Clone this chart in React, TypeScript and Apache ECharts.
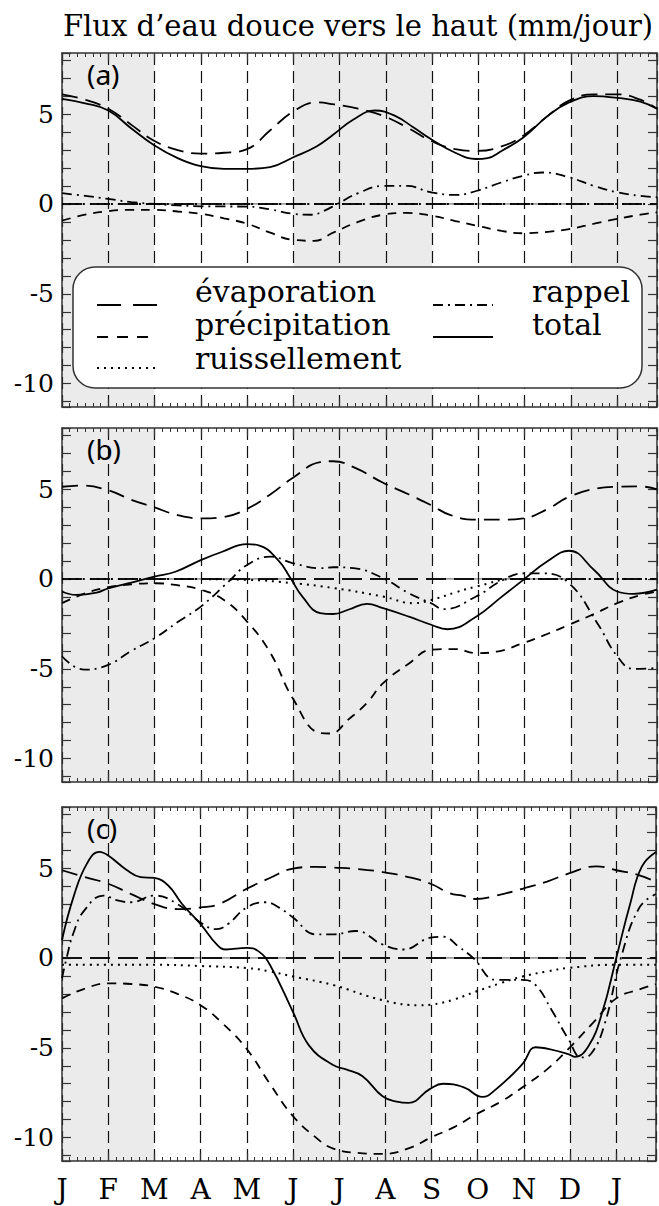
import React, { useEffect, useRef } from "react";
import * as echarts from "echarts";

// ---------- data ----------
const monthLabels = ["J", "F", "M", "A", "M", "J", "J", "A", "S", "O", "N", "D", "J"];
const X_MAX = 12.86;
const Y_MIN = -11.3;
const Y_MAX = 8.4;
const shadedPeriods = [[0, 2], [5, 8], [11, X_MAX]];
const zeroLine = [[0, 0], [X_MAX, 0]];
const panelLabels = ["(a)", "(b)", "(c)"];
const titleText = "Flux d\u2019eau douce vers le haut (mm/jour)";
const legendNames = ["évaporation", "précipitation", "ruissellement", "rappel", "total"];

// panel (a)
const evapA = [[0, 6.1], [0.5, 5.8], [1, 5.3], [1.5, 4.4], [2, 3.5], [2.5, 3.0], [3, 2.8], [3.5, 2.85], [4, 3.05], [4.5, 4.1], [5, 5.15], [5.5, 5.65], [5.86, 5.55], [6.4, 5.3], [6.94, 4.9], [7.5, 4.2], [7.98, 3.5], [8.5, 3.05], [8.95, 2.95], [9.5, 3.2], [9.97, 3.8], [10.5, 4.9], [10.96, 5.75], [11.5, 6.1], [12, 6.1], [12.5, 5.8], [12.86, 5.3]];
const precipA = [[0, -0.93], [0.5, -0.6], [1, -0.4], [1.5, -0.33], [2, -0.33], [2.5, -0.42], [3, -0.55], [3.5, -0.8], [4, -1.1], [4.5, -1.6], [5, -2.0], [5.45, -2.05], [5.86, -1.6], [6.4, -1.0], [6.94, -0.6], [7.45, -0.5], [7.98, -0.65], [8.5, -0.95], [8.95, -1.2], [9.5, -1.5], [9.97, -1.63], [10.5, -1.55], [10.96, -1.4], [11.5, -1.1], [12, -0.83], [12.5, -0.6], [12.86, -0.47]];
const ruissA = [[0, 0], [4, 0], [8, 0], [12.86, 0]];
const rappelA = [[0, 0.6], [0.5, 0.45], [1, 0.28], [1.5, 0.1], [2, 0], [2.5, -0.08], [3, -0.13], [3.5, -0.14], [4, -0.15], [4.5, -0.3], [5, -0.55], [5.4, -0.6], [5.65, -0.4], [5.95, 0], [6.4, 0.6], [6.94, 1.0], [7.45, 1.0], [7.98, 0.65], [8.5, 0.5], [8.95, 0.72], [9.5, 1.2], [9.97, 1.57], [10.4, 1.75], [10.96, 1.48], [11.5, 1.0], [12, 0.65], [12.5, 0.45], [12.86, 0.37]];
const totalA = [[0, 5.85], [0.5, 5.6], [1, 5.2], [1.5, 4.2], [2, 3.25], [2.5, 2.55], [3, 2.1], [3.5, 1.95], [4, 1.95], [4.5, 2.05], [5, 2.6], [5.5, 3.2], [5.86, 3.85], [6.3, 4.7], [6.77, 5.2], [7.2, 4.9], [7.6, 4.25], [7.98, 3.6], [8.5, 2.85], [8.95, 2.5], [9.2, 2.55], [9.5, 2.95], [9.97, 3.7], [10.5, 4.9], [10.96, 5.65], [11.5, 6.0], [12, 5.9], [12.5, 5.7], [12.86, 5.3]];

// panel (b)
const evapB = [[0, 5.13], [0.4, 5.2], [1, 4.94], [1.5, 4.4], [2, 3.98], [2.5, 3.55], [3, 3.37], [3.5, 3.45], [4, 3.9], [4.5, 4.7], [5, 5.65], [5.58, 6.5], [5.86, 6.55], [6.36, 6.15], [6.94, 5.35], [7.5, 4.7], [7.98, 4.1], [8.4, 3.55], [8.95, 3.3], [9.5, 3.3], [9.97, 3.37], [10.5, 3.9], [10.96, 4.57], [11.57, 5.04], [12, 5.13], [12.5, 5.15], [12.86, 4.98]];
const precipB = [[0, -1.35], [0.5, -0.8], [1, -0.46], [1.5, -0.3], [2, -0.24], [2.5, -0.35], [3, -0.6], [3.5, -1.17], [4, -2.37], [4.5, -4.1], [5, -6.7], [5.58, -8.57], [5.8, -8.6], [6.2, -7.8], [6.59, -6.9], [6.94, -5.8], [7.5, -4.7], [7.98, -3.94], [8.5, -3.9], [8.95, -4.13], [9.4, -4.04], [9.97, -3.57], [10.5, -3.05], [10.96, -2.55], [11.5, -1.95], [12, -1.35], [12.5, -0.9], [12.86, -0.7]];
const ruissB = [[0, 0], [2, 0], [4, -0.05], [5, -0.24], [5.86, -0.5], [6.94, -0.98], [7.6, -1.35], [7.98, -1.17], [8.5, -0.75], [8.95, -0.43], [9.8, 0], [10.96, 0], [12.86, 0]];
const rappelB = [[0, -4.3], [0.48, -5.05], [1, -4.78], [1.5, -4.0], [2, -3.3], [2.5, -2.4], [3, -1.54], [3.6, -0.15], [4, 0.78], [4.5, 1.24], [5, 0.87], [5.58, 0.6], [5.86, 0.65], [6.3, 0.6], [6.94, 0.04], [7.5, -0.8], [7.98, -1.35], [8.25, -1.68], [8.95, -0.98], [9.5, -0.1], [9.97, 0.31], [10.4, 0.31], [10.96, -0.24], [11.57, -2.46], [12, -4.3], [12.35, -5.0], [12.86, -4.96]];
const totalB = [[0, -0.7], [0.3, -0.89], [0.75, -0.76], [1, -0.52], [1.5, -0.2], [2, 0.13], [2.45, 0.4], [3, 1.05], [3.45, 1.5], [4, 1.94], [4.25, 1.87], [4.67, 1.05], [4.94, 0.04], [5.2, -1.0], [5.58, -1.9], [5.86, -1.95], [6.2, -1.7], [6.59, -1.39], [6.94, -1.63], [7.5, -2.1], [7.98, -2.55], [8.33, -2.8], [8.95, -2.1], [9.5, -1.0], [9.97, -0.05], [10.5, 1.0], [10.96, 1.57], [11.5, 0.5], [12, -0.7], [12.35, -0.83], [12.86, -0.6]];

// panel (c)
const evapC = [[0, 4.88], [0.5, 4.5], [1, 4.13], [1.5, 3.55], [2, 3.0], [2.5, 2.72], [3, 2.81], [3.4, 3.0], [4, 3.85], [4.5, 4.45], [5, 4.97], [5.5, 5.07], [5.86, 5.03], [6.4, 4.95], [6.94, 4.78], [7.5, 4.5], [7.98, 4.13], [8.4, 3.6], [8.67, 3.47], [8.95, 3.28], [9.4, 3.47], [9.97, 3.85], [10.5, 4.25], [10.96, 4.69], [11.57, 5.1], [12, 4.88], [12.5, 4.6], [12.86, 4.22]];
const precipC = [[0, -2.25], [0.5, -1.7], [1, -1.41], [1.5, -1.45], [2, -1.6], [2.5, -2.0], [3, -2.63], [3.5, -3.7], [4, -5.07], [4.5, -7.0], [5, -8.8], [5.5, -10.0], [5.86, -10.6], [6.4, -10.85], [6.94, -10.9], [7.5, -10.6], [7.98, -10.0], [8.5, -9.4], [8.95, -8.72], [9.5, -8.0], [9.97, -7.2], [10.5, -6.2], [10.96, -5.07], [11.5, -3.6], [12, -2.25], [12.5, -1.75], [12.86, -1.46]];
const ruissC = [[0, -0.38], [2, -0.38], [3, -0.45], [4, -0.56], [4.5, -0.75], [5, -1.03], [5.86, -1.5], [6.94, -2.35], [7.75, -2.63], [7.98, -2.6], [8.5, -2.3], [8.95, -1.88], [9.5, -1.4], [9.97, -1.03], [10.5, -0.75], [10.96, -0.56], [12, -0.38], [12.86, -0.38]];
const rappelC = [[0, -1.13], [0.1, 0], [0.25, 1.4], [0.48, 2.63], [0.9, 3.47], [1.2, 3.2], [1.5, 3.1], [2, 3.47], [2.5, 3.0], [3, 1.97], [3.35, 1.6], [3.6, 1.9], [4, 2.81], [4.4, 3.1], [4.7, 2.8], [5, 2.25], [5.5, 1.31], [5.86, 1.31], [6.36, 1.5], [6.94, 0.75], [7.4, 0.47], [7.98, 1.13], [8.25, 1.18], [8.6, 0.6], [8.9, 0], [9.4, -1.22], [9.97, -1.22], [10.25, -1.5], [10.6, -2.9], [10.96, -4.5], [11.25, -5.53], [11.45, -5.35], [11.74, -3.75], [12.1, 0], [12.5, 2.8], [12.86, 3.56]];
const totalC = [[0, 1.0], [0.25, 3.4], [0.54, 5.25], [0.81, 5.9], [1, 5.7], [1.4, 4.9], [1.7, 4.5], [2, 4.45], [2.3, 4.03], [2.6, 3.0], [3, 1.88], [3.35, 0.75], [3.55, 0.47], [4, 0.56], [4.25, 0.38], [4.5, -0.38], [5, -3.0], [5.35, -4.88], [5.86, -5.95], [6.15, -6.2], [6.5, -6.57], [6.94, -7.7], [7.25, -8.0], [7.5, -8.07], [7.96, -7.3], [8.25, -7.0], [8.7, -7.2], [9.1, -7.73], [9.4, -7.3], [9.97, -5.9], [10.25, -4.97], [10.55, -5.07], [10.96, -5.35], [11.1, -5.5], [11.4, -4.9], [11.7, -3.0], [12, 0], [12.3, 3.0], [12.55, 5.07], [12.86, 5.9]];

const panels = [
  { evap: evapA, precip: precipA, ruiss: ruissA, rappel: rappelA, total: totalA },
  { evap: evapB, precip: precipB, ruiss: ruissB, rappel: rappelB, total: totalB },
  { evap: evapC, precip: precipC, ruiss: ruissC, rappel: rappelC, total: totalC },
];

// ---------- styles / layout ----------
const SERIF = "DejaVu Serif";
const GRID_LEFT = 62;
const GRID_WIDTH = 595;
const GRID_HEIGHT = 354;
const GRID_TOPS = [53, 428, 807];
const INK = "#000";
const FRAME = "#333";

const styles: Record<string, { type: any; width: number }> = {
  evap: { type: [16, 8], width: 1.8 },
  precip: { type: [9, 7], width: 1.8 },
  ruiss: { type: [2, 5], width: 2 },
  rappel: { type: [10, 5, 2, 5], width: 1.8 },
  total: { type: "solid", width: 1.8 },
};

function buildOption() {
  const grid: any[] = [];
  const xAxis: any[] = [];
  const yAxis: any[] = [];
  const series: any[] = [];

  panels.forEach((p, i) => {
    grid.push({ left: GRID_LEFT, top: GRID_TOPS[i], width: GRID_WIDTH, height: GRID_HEIGHT, show: false });
    ["bottom", "top"].forEach((pos) => {
      xAxis.push({
        type: "value", gridIndex: i, position: pos, min: 0, max: X_MAX, interval: 1, z: 5,
        axisLine: { show: true, onZero: false, lineStyle: { color: FRAME, width: 1.5 } },
        axisTick: { show: true, inside: true, length: 8, lineStyle: { color: FRAME, width: 1.2 } },
        minorTick: { show: true, splitNumber: 6, length: 4, lineStyle: { color: FRAME, width: 1 } },
        splitLine: { show: pos === "bottom", lineStyle: { color: "#111", width: 1.2, type: [12, 6] } },
        axisLabel: {
          show: pos === "bottom" && i === 2,
          margin: 14, color: INK, fontFamily: SERIF, fontSize: 28,
          formatter: (v: number) => (Number.isInteger(v) && monthLabels[v] ? monthLabels[v] : ""),
        },
      });
    });
    ["left", "right"].forEach((pos) => {
      yAxis.push({
        type: "value", gridIndex: i, position: pos, min: Y_MIN, max: Y_MAX,
        splitNumber: 20, minInterval: 1, maxInterval: 1, z: 5,
        axisLine: { show: true, onZero: false, lineStyle: { color: FRAME, width: 1.5 } },
        axisTick: { show: true, inside: true, length: 9, lineStyle: { color: FRAME, width: 1.2 } },
        splitLine: { show: false },
        axisLabel: {
          show: pos === "left", margin: 8, color: INK, fontFamily: SERIF, fontSize: 25,
          formatter: (v: number) => (Math.abs(v % 5) < 1e-9 ? String(v) : ""),
        },
      });
    });
    const xi = 2 * i;
    const yi = 2 * i;
    // shading
    series.push({
      type: "line", xAxisIndex: xi, yAxisIndex: yi, z: 1, data: [[0, 0]], showSymbol: false,
      lineStyle: { width: 0, opacity: 0 }, silent: true,
      markArea: {
        silent: true, itemStyle: { color: "#ebebeb" },
        data: shadedPeriods.map(([a, b]) => [{ xAxis: a }, { xAxis: b }]),
      },
    });
    // thin zero line (under shading)
    series.push({
      type: "line", xAxisIndex: xi, yAxisIndex: yi, z: 0, data: zeroLine, showSymbol: false, silent: true,
      lineStyle: { color: "#555", width: 1 },
    });
    // long-dash zero line
    series.push({
      type: "line", xAxisIndex: xi, yAxisIndex: yi, z: 8, data: zeroLine, showSymbol: false, silent: true,
      lineStyle: { color: "#111", width: 2, type: [20, 8] },
    });
    (["ruiss", "precip", "evap", "rappel", "total"] as const).forEach((k) => {
      series.push({
        name: k, type: "line", xAxisIndex: xi, yAxisIndex: yi, z: 10,
        data: (p as any)[k], showSymbol: false, symbol: "none", smooth: 0.45,
        lineStyle: { color: INK, width: styles[k].width, type: styles[k].type },
      });
    });
  });

  // legend and texts
  const L = { x: 73, y: 267, w: 569, h: 121 };
  const legendRows = [
    { key: "evap", name: legendNames[0], sx: 97, sy: 305, tx: 195, ty: 291, dash: [24, 12] },
    { key: "precip", name: legendNames[1], sx: 97, sy: 337, tx: 195, ty: 324, dash: [11, 9] },
    { key: "ruiss", name: legendNames[2], sx: 97, sy: 368, tx: 195, ty: 358, dash: [2, 5] },
    { key: "rappel", name: legendNames[3], sx: 433, sy: 305, tx: 532, ty: 291, dash: [10, 5, 2, 5] },
    { key: "total", name: legendNames[4], sx: 433, sy: 337, tx: 532, ty: 324, dash: null },
  ];
  const graphic: any[] = [
    {
      type: "text", z: 100, x: 358, y: 26,
      style: { text: titleText, fontFamily: SERIF, fontSize: 29, fill: INK, align: "center", verticalAlign: "middle" },
    },
    ...panelLabels.map((t, i) => ({
      type: "text", z: 100, x: 87, y: GRID_TOPS[i] + 21,
      style: { text: t, fontFamily: "Noto Sans", fontSize: 28, fill: INK, align: "left", verticalAlign: "middle" },
    })),
    {
      type: "rect", z: 100, shape: { x: L.x, y: L.y, width: L.w, height: L.h, r: 22 },
      style: { fill: "#fff", stroke: FRAME, lineWidth: 1.5 },
    },
  ];
  legendRows.forEach((r) => {
    graphic.push({
      type: "line", z: 101, shape: { x1: r.sx, y1: r.sy, x2: r.sx + 60, y2: r.sy },
      style: { stroke: INK, lineWidth: r.key === "ruiss" ? 2 : 1.8, lineDash: r.dash || undefined },
    });
    graphic.push({
      type: "text", z: 101, x: r.tx, y: r.ty,
      style: { text: r.name, fontFamily: SERIF, fontSize: 30, fill: INK, align: "left", verticalAlign: "middle" },
    });
  });

  return { animation: false, backgroundColor: "#fff", grid, xAxis, yAxis, series, graphic };
}

export default function App() {
  const ref = useRef<HTMLDivElement>(null);
  useEffect(() => {
    document.body.style.margin = "0";
    const chart = echarts.init(ref.current!, null, { renderer: "svg" });
    chart.setOption(buildOption() as any);
    return () => chart.dispose();
  }, []);
  return <div ref={ref} style={{ width: 659, height: 1206 }} />;
}
